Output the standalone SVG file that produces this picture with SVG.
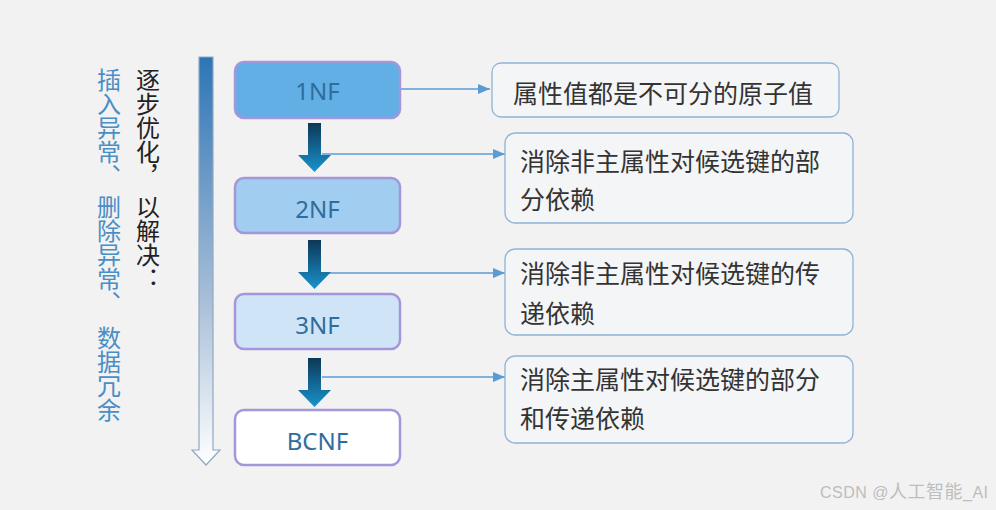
<svg xmlns="http://www.w3.org/2000/svg" width="996" height="510" viewBox="0 0 996 510">
<defs>
<linearGradient id="bigArrow" x1="0" y1="0" x2="0" y2="1">
<stop offset="0" stop-color="#2e75b6"/>
<stop offset="0.6" stop-color="#a9bfd8"/>
<stop offset="1" stop-color="#ffffff"/>
</linearGradient>
<linearGradient id="downArrow" x1="0" y1="0" x2="0" y2="1">
<stop offset="0" stop-color="#0c3756"/>
<stop offset="1" stop-color="#1a93cc"/>
</linearGradient>
<marker id="tri" viewBox="0 0 12 10" refX="12" refY="5" markerWidth="12" markerHeight="10" markerUnits="userSpaceOnUse" orient="auto">
<path d="M0,0 L12,5 L0,10 Z" fill="#5b9bd5"/>
</marker>
</defs>
<style>
.vt{font-family:"Noto Sans CJK SC","Noto Sans",sans-serif;font-size:24px;writing-mode:vertical-rl;text-orientation:mixed;}
.side1{fill:#4a8ec6;}
.side2{fill:#222;}
.nf rect{stroke:#a596dc;stroke-width:2.5;}
.nf text{font-family:"Noto Sans","Open Sans",sans-serif;font-size:24px;fill:#2f6d9d;text-anchor:middle;dominant-baseline:central;}
.desc rect{fill:#f4f5f7;stroke:#8fb3d6;stroke-width:1.3;}
.desc text{font-family:"Noto Sans CJK SC",sans-serif;font-size:25px;fill:#333;dominant-baseline:central;}
.conn{stroke:#5b9bd5;stroke-width:1.3;fill:none;marker-end:url(#tri);}
.down{fill:url(#downArrow);}
</style>
<rect width="996" height="510" fill="#f2f2f2"/>

<g id="side-text">
<text class="vt side1" x="109" y="68">插入异常、</text>
<text class="vt side1" x="109" y="195">删除异常、</text>
<text class="vt side1" x="109" y="326">数据冗余</text>
<text class="vt side2" x="148" y="68">逐步优化，</text>
<text class="vt side2" x="148" y="195">以解决：</text>
</g>

<g id="progress-arrow">
<path d="M199,57 H213 V450 H220 L206,465 L192,450 H199 Z" fill="url(#bigArrow)" stroke="#8ea8c2" stroke-width="1.2"/>
</g>

<g id="connectors">
<path class="conn" d="M401,89 H490"/>
<path class="conn" d="M322,154 H505"/>
<path class="conn" d="M322,273 H505"/>
<path class="conn" d="M322,377 H505"/>
</g>

<g id="step-arrows">
<path class="down" d="M308,123 H321 V155 H331 L314.5,172 L298,155 H308 Z"/>
<path class="down" d="M308,240 H321 V272 H331 L314.5,289 L298,272 H308 Z"/>
<path class="down" d="M308,358 H321 V390 H331 L314.5,407 L298,390 H308 Z"/>
</g>

<g id="node-1nf" class="nf">
<rect x="235" y="62" width="165" height="56" rx="9" fill="#62afe6"/>
<text x="317.5" y="90">1NF</text>
</g>
<g id="node-2nf" class="nf">
<rect x="235" y="178" width="165" height="55" rx="9" fill="#a0cdf0"/>
<text x="317.5" y="208">2NF</text>
</g>
<g id="node-3nf" class="nf">
<rect x="235" y="294" width="165" height="55" rx="9" fill="#cfe4f6"/>
<text x="317.5" y="324">3NF</text>
</g>
<g id="node-bcnf" class="nf">
<rect x="235" y="410" width="165" height="55" rx="9" fill="#ffffff"/>
<text x="317.5" y="440">BCNF</text>
</g>

<g id="desc-1nf" class="desc">
<rect x="492" y="63" width="347" height="54" rx="9"/>
<text x="513" y="92">属性值都是不可分的原子值</text>
</g>
<g id="desc-2nf" class="desc">
<rect x="505" y="133" width="348" height="90" rx="10"/>
<text x="520" y="160">消除非主属性对候选键的部</text>
<text x="520" y="198">分依赖</text>
</g>
<g id="desc-3nf" class="desc">
<rect x="505" y="249" width="348" height="86" rx="10"/>
<text x="520" y="272">消除非主属性对候选键的传</text>
<text x="520" y="312">递依赖</text>
</g>
<g id="desc-bcnf" class="desc">
<rect x="505" y="356" width="348" height="87" rx="10"/>
<text x="520" y="378">消除主属性对候选键的部分</text>
<text x="520" y="417">和传递依赖</text>
</g>

<g id="watermark">
<text x="820" y="498" font-family="'Liberation Sans','Noto Sans CJK SC',sans-serif" font-size="16" fill="#bdbdbd" letter-spacing="0.5">CSDN @<tspan font-size="18" font-family="'Noto Sans CJK SC',sans-serif">人工智能</tspan>_AI</text>
</g>
</svg>
